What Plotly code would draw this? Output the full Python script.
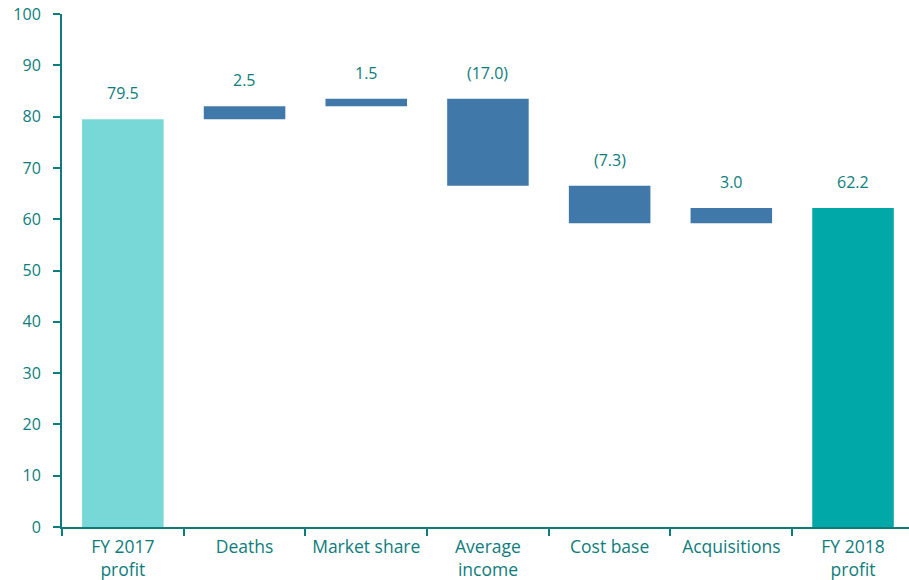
import plotly.graph_objects as go

categories = ["FY 2017<br>profit", "Deaths", "Market share", "Average<br>income", "Cost base", "Acquisitions", "FY 2018<br>profit"]
changes = [79.5, 2.5, 1.5, -17.0, -7.3, 3.0, 62.2]
measures = ["absolute", "relative", "relative", "relative", "relative", "relative", "total"]
bar_colors = ["#78d7d7", "#4079a9", "#4079a9", "#4079a9", "#4079a9", "#4079a9", "#00a8a8"]
y_ticks = [0, 10, 20, 30, 40, 50, 60, 70, 80, 90, 100]

TEAL = "#0e7c7b"
FONT = "Open Sans"
FS = 16
FS_CAT = 17.5

bases, heights, tops, labels = [], [], [], []
running = 0.0
for v, m in zip(changes, measures):
    if m == "absolute":
        lo, hi = 0.0, v
        running = v
    elif m == "total":
        lo, hi = 0.0, running
    else:
        new = running + v
        lo, hi = min(running, new), max(running, new)
        running = new
    bases.append(lo)
    heights.append(hi - lo)
    tops.append(hi)
    labels.append(f"({abs(v):.1f})" if v < 0 else f"{v:.1f}")

fig = go.Figure()
fig.add_trace(go.Bar(
    x=categories, y=heights, base=bases,
    marker=dict(color=bar_colors, line=dict(width=0)),
    hoverinfo="skip",
))

for c, t, lab in zip(categories, tops, labels):
    fig.add_annotation(x=c, y=t, text=lab, showarrow=False, yanchor="bottom",
                       yshift=13, font=dict(family=FONT, size=FS, color=TEAL))

fig.update_layout(
    width=909, height=580,
    margin=dict(l=62, r=0, t=14, b=53),
    paper_bgcolor="white", plot_bgcolor="white",
    bargap=0.33, showlegend=False,
    font=dict(family=FONT, size=FS, color=TEAL),
    xaxis=dict(range=[-0.5, 6.46], showline=True, linecolor=TEAL, linewidth=2, ticks="outside",
               tickson="boundaries", ticklen=7, tickwidth=2, tickcolor=TEAL,
               showgrid=False, automargin=False, ticklabelstandoff=3, tickangle=0,
               tickfont=dict(family=FONT, size=FS_CAT, color=TEAL)),
    yaxis=dict(range=[0, 100], tickvals=y_ticks, showline=True, linecolor=TEAL,
               linewidth=2, ticks="outside", ticklen=7, tickwidth=2, tickcolor=TEAL,
               showgrid=False, zeroline=False, ticklabelstandoff=9, automargin=False,
               tickfont=dict(family=FONT, size=FS, color=TEAL)),
)

fig.write_html("out.html", config={"displayModeBar": False},
               post_script="document.body.style.margin='0';")
